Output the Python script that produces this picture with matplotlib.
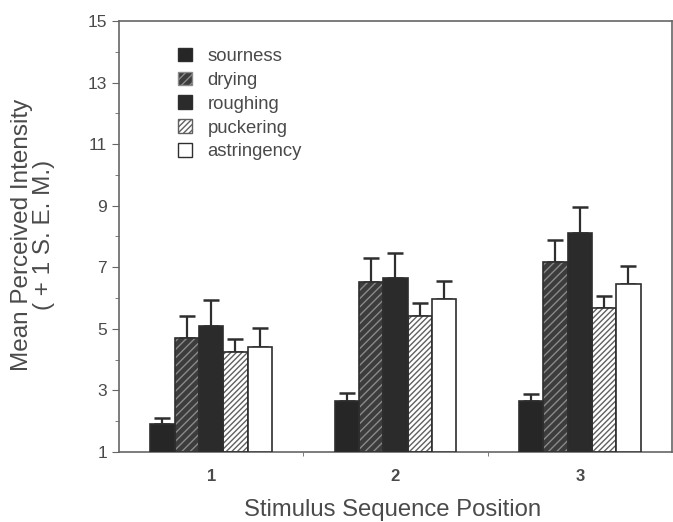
import numpy as np
import matplotlib.pyplot as plt
from matplotlib.patches import Patch

# data
positions = [1, 2, 3]
pos_labels = ['1', '2', '3']
attributes = ['sourness', 'drying', 'roughing', 'puckering', 'astringency']
sourness = [1.91, 2.66, 2.66]
drying = [4.70, 6.53, 7.18]
roughing = [5.09, 6.64, 8.12]
puckering = [4.26, 5.42, 5.69]
astringency = [4.40, 5.98, 6.45]
sem_sourness = [0.20, 0.25, 0.22]
sem_drying = [0.73, 0.77, 0.70]
sem_roughing = [0.85, 0.84, 0.84]
sem_puckering = [0.42, 0.41, 0.38]
sem_astringency = [0.63, 0.58, 0.59]

means = [sourness, drying, roughing, puckering, astringency]
sems = [sem_sourness, sem_drying, sem_roughing, sem_puckering, sem_astringency]

TXT = '#4a4a4a'
EDGE = '#2e2e2e'
plt.rcParams['font.family'] = ['Liberation Sans', 'DejaVu Sans']

# style per attribute: face, hatch, hatch colour
styles = [
    ('#262626', None, None),
    ('#3c3c3c', '////', '#8a8a8a'),
    ('#2b2b2b', None, None),
    ('white', '//////', '#606060'),
    ('white', None, None),
]

fig = plt.figure(figsize=(6.73, 5.22), dpi=100)
ax = fig.add_axes([0.1768, 0.1341, 0.8217, 0.8257])

w = 0.132
x = np.array(positions, dtype=float)
for k, (m, s) in enumerate(zip(means, sems)):
    xs = x + (k - 2) * w
    face, hatch, hcol = styles[k]
    if hatch:
        ax.bar(xs, np.array(m) - 1, w, bottom=1, color=face, hatch=hatch,
               edgecolor=hcol, linewidth=0, zorder=2)
        ax.bar(xs, np.array(m) - 1, w, bottom=1, fill=False,
               edgecolor=EDGE, linewidth=1.2, zorder=3)
    else:
        ax.bar(xs, np.array(m) - 1, w, bottom=1, color=face,
               edgecolor=EDGE, linewidth=1.2, zorder=3)
    ax.errorbar(xs, m, yerr=[np.zeros(3), s], fmt='none', ecolor=EDGE,
                elinewidth=1.6, capsize=6, capthick=1.8, zorder=1)

ax.set_xlim(0.5, 3.5)
ax.set_ylim(1, 15)
ax.set_yticks(np.arange(1, 16, 2))
ax.set_yticks(np.arange(2, 15, 2), minor=True)
ax.set_xticks(positions)
ax.set_xticklabels(pos_labels, fontweight='bold', fontsize=12, color=TXT)
ax.set_xticks([1.5, 2.5], minor=True)
ax.tick_params(axis='x', which='major', length=0, pad=12)
ax.tick_params(axis='x', which='minor', length=3, color='#666666')
ax.tick_params(axis='y', which='major', length=5, color='#666666', labelsize=12.5, labelcolor=TXT)
ax.tick_params(axis='y', which='minor', length=3, color='#666666')
for sp in ax.spines.values():
    sp.set_color('#666666')
    sp.set_linewidth(1.2)

ax.set_ylabel('Mean Perceived Intensity\n( + 1 S. E. M.)', fontsize=17.5,
              color=TXT, linespacing=1.0)
ax.yaxis.set_label_coords(-0.116, 0.503)
ax.set_xlabel('Stimulus Sequence Position', fontsize=17.2, color=TXT)
ax.xaxis.set_label_coords(0.494, -0.11)

handles = []
for k, name in enumerate(attributes):
    face, hatch, hcol = styles[k]
    handles.append(Patch(facecolor=face, hatch=hatch, edgecolor=EDGE if not hatch else hcol,
                         linewidth=1, label=name))
leg = ax.legend(handles=handles, loc='upper left', bbox_to_anchor=(0.093, 0.955),
                frameon=False, fontsize=13.3, handlelength=0.75, handleheight=0.75,
                labelspacing=0.36, handletextpad=0.85, borderaxespad=0)
for t in leg.get_texts():
    t.set_color(TXT)

plt.savefig('out.png', dpi=100)
